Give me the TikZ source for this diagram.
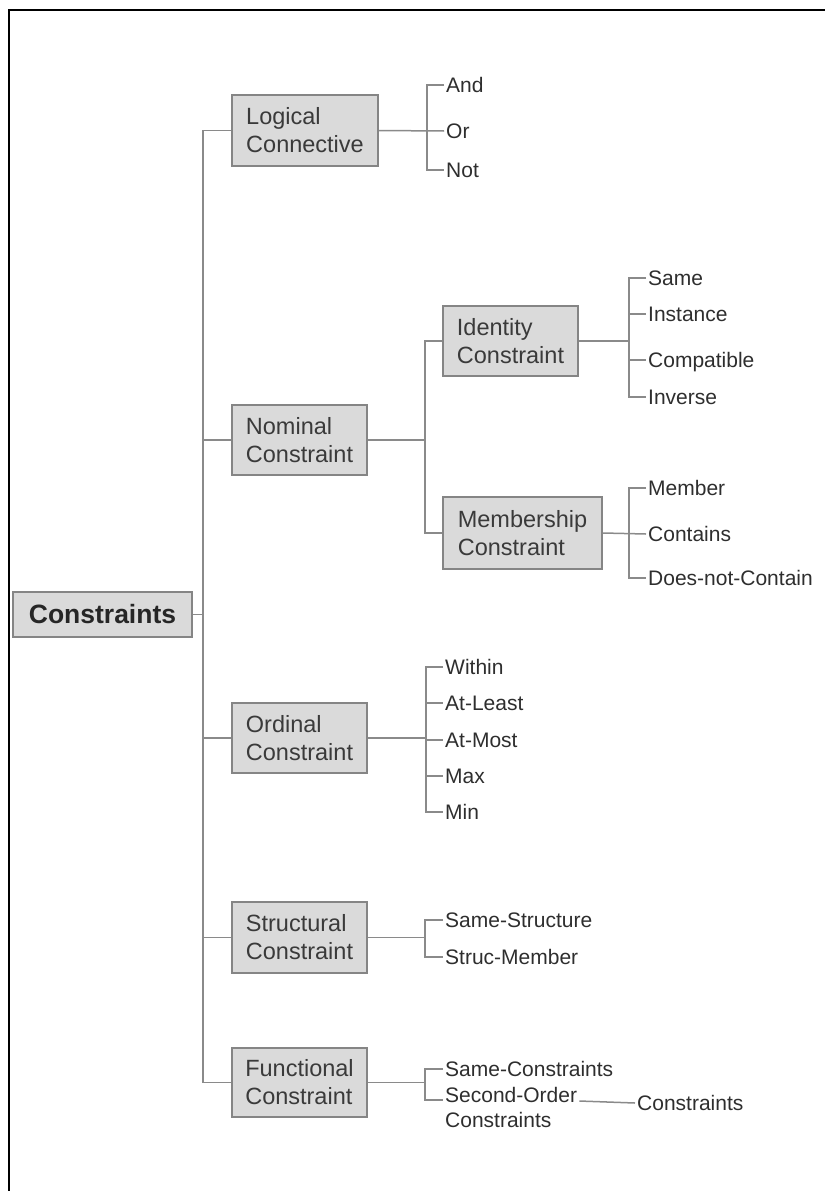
\documentclass[tikz,border=0pt]{standalone}
\usepackage{fontspec}
\setmainfont{Liberation Sans}
\definecolor{boxfill}{HTML}{DADADA}
\definecolor{boxline}{HTML}{858585}
\definecolor{linkgray}{HTML}{8A8A8A}
\definecolor{boxtext}{HTML}{3A3A3A}
\definecolor{leaftext}{HTML}{2E2E2E}
\begin{document}
\begin{tikzpicture}[x=1pt,y=-1pt,
  box/.style={draw=boxline, fill=boxfill, line width=1.5pt, align=left, inner sep=0pt,
    font=\fontsize{23.5}{28}\selectfont, text=boxtext},
  leaf/.style={anchor=west, inner xsep=2pt, inner ysep=0pt, text height=15pt, text depth=0pt,
    font=\fontsize{21}{24}\selectfont, text=leaftext},
  link/.style={draw=linkgray, line width=1.5pt}
]
\useasboundingbox (0,0) rectangle (825,1191);
% frame (top and left edges)
\draw[line width=2pt] (9,1191) -- (9,10) -- (825,10);

% root
\node[box, minimum width=179pt, minimum height=45pt, text=black!85,
  font=\fontsize{26.5}{30}\selectfont\bfseries] (root) at (102.5,614.5) {Constraints};
\coordinate (trunk) at (203,614.5);

% first-level categories
\node[box, minimum width=146pt, minimum height=71pt] (L) at (305,130.5) {Logical\\Connective};
\node[box, minimum width=135pt, minimum height=70pt] (N) at (299.5,440) {Nominal\\Constraint};
\node[box, minimum width=135pt, minimum height=70pt] (O) at (299.5,738) {Ordinal\\Constraint};
\node[box, minimum width=135pt, minimum height=71pt] (S) at (299.5,937.5) {Structural\\Constraint};
\node[box, minimum width=135pt, minimum height=69pt] (F) at (299.5,1082.5) {Functional\\Constraint};

% second-level categories under Nominal
\node[box, minimum width=135pt, minimum height=70pt] (I) at (510.5,341) {Identity\\Constraint};
\node[box, minimum width=159pt, minimum height=72pt] (M) at (522.5,533) {Membership\\Constraint};

% trunk
\draw[link] (root.east) -- (trunk);
\draw[link] (L.west) -- (trunk |- L.west) -- (trunk |- F.west) -- (F.west);
\draw[link] (trunk |- N.west) -- (N.west);
\draw[link] (trunk |- O.west) -- (O.west);
\draw[link] (trunk |- S.west) -- (S.west);

% Logical connective
\node[leaf] (and) at (444,85) {And};
\node[leaf] (or) at (444,131) {Or};
\node[leaf] (not) at (444,170) {Not};
\coordinate (jL) at (427,131);
\draw[link] (L.east) -- (or.west);
\draw[link] (and.west) -- (jL |- and) -- (jL |- not) -- (not.west);

% Nominal constraint
\coordinate (jN) at (425,440);
\draw[link] (N.east) -- (jN);
\draw[link] (I.west) -- (jN |- I.west) -- (jN |- M.west) -- (M.west);

% Identity constraint
\node[leaf] (same) at (646,278) {Same};
\node[leaf] (instance) at (646,314) {Instance};
\node[leaf] (compatible) at (646,360) {Compatible};
\node[leaf] (inverse) at (646,397) {Inverse};
\coordinate (jI) at (629,341);
\draw[link] (I.east) -- (jI);
\draw[link] (same.west) -- (jI |- same) -- (jI |- inverse) -- (inverse.west);
\draw[link] (jI |- instance) -- (instance.west);
\draw[link] (jI |- compatible) -- (compatible.west);

% Membership constraint
\node[leaf] (member) at (646,488) {Member};
\node[leaf] (contains) at (646,534) {Contains};
\node[leaf] (dnc) at (646,578) {Does-not-Contain};
\coordinate (jM) at (629,534);
\draw[link] (M.east) -- (contains.west);
\draw[link] (member.west) -- (jM |- member) -- (jM |- dnc) -- (dnc.west);

% Ordinal constraint
\node[leaf] (within) at (443,667) {Within};
\node[leaf] (atleast) at (443,703) {At-Least};
\node[leaf] (atmost) at (443,740) {At-Most};
\node[leaf] (max) at (443,776) {Max};
\node[leaf] (min) at (443,812) {Min};
\coordinate (jO) at (426,738);
\draw[link] (O.east) -- (jO);
\draw[link] (within.west) -- (jO |- within) -- (jO |- min) -- (min.west);
\draw[link] (jO |- atleast) -- (atleast.west);
\draw[link] (jO |- atmost) -- (atmost.west);
\draw[link] (jO |- max) -- (max.west);

% Structural constraint
\node[leaf] (samestruct) at (443,920) {Same-Structure};
\node[leaf] (strucmember) at (443,957) {Struc-Member};
\coordinate (jS) at (425,937.5);
\draw[link] (S.east) -- (jS);
\draw[link] (samestruct.west) -- (jS |- samestruct) -- (jS |- strucmember) -- (strucmember.west);

% Functional constraint
\node[leaf] (samecons) at (443,1069) {Same-Constraints};
\node[leaf] (second) at (443,1095) {Second-Order};
\node[leaf] (secondb) at (443,1120) {Constraints};
\node[leaf] (cons) at (635,1103) {Constraints};
\coordinate (jF) at (425,1082.5);
\coordinate (secondtick) at ([yshift=-5pt]second.west);
\coordinate (secondend) at ([yshift=-6pt]second.east);
\draw[link] (F.east) -- (jF);
\draw[link] (samecons.west) -- (jF |- samecons) -- (jF |- secondtick) -- (secondtick);
\draw[link] (secondend) -- (cons.west);
\end{tikzpicture}
\end{document}
